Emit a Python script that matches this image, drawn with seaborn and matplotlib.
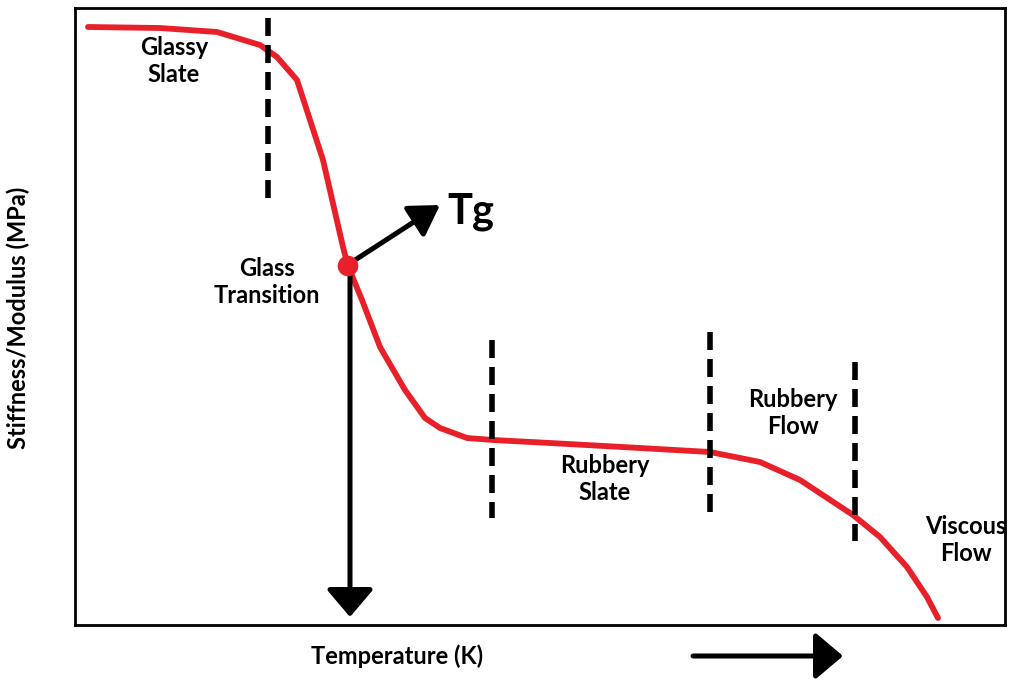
import numpy as np
import pandas as pd
import matplotlib
matplotlib.use('Agg')
import matplotlib.pyplot as plt
import seaborn as sns

# curve (x = temperature, y = stiffness, arbitrary units)
temp = [88, 160, 217, 260, 277, 297, 323, 343, 348, 362, 380, 405, 425, 440,
        467, 493, 550, 640, 710, 760, 800, 853, 880, 907, 927, 938]
stiff = [656, 655, 651, 638, 626, 603, 523, 436, 417, 383, 336, 293, 265, 255,
         245, 243, 240, 235, 231, 221, 203, 168, 146, 116, 86, 65]

# Tg point
tg_x, tg_y = 348, 417

# region boundaries (dashed lines): x, y bottom, y top
bound_x = [268, 492, 710, 855]
bound_lo = [485, 165, 171, 142]
bound_hi = [665, 343, 351, 321]

# region labels
labels = ['Glassy\nSlate', 'Glass\nTransition', 'Rubbery\nSlate', 'Rubbery\nFlow', 'Viscous\nFlow']
label_x = [174, 267, 605, 793, 966]
label_y = [622, 401, 204, 270, 143]

RED = '#e8202a'
FS = 17

sns.set_style('white')
plt.rcParams['font.family'] = ['Lato', 'DejaVu Sans']
plt.rcParams['text.color'] = 'black'

fig = plt.figure(figsize=(10.24, 6.83), dpi=100)
ax = fig.add_axes([75 / 1024, 58 / 683, 930 / 1024, 617 / 683])

df = pd.DataFrame({'T': temp, 'E': stiff})
sns.lineplot(data=df, x='T', y='E', ax=ax, color=RED, linewidth=4.2, sort=False)

# draw dashed boundaries from the top down so they start with a full dash
for x, lo, hi in zip(bound_x, bound_lo, bound_hi):
    ax.plot([x, x], [hi, lo], color='black', linewidth=4.0, linestyle=(0, (3.24, 1.62)))

big_head = '-|>,head_length=0.85,head_width=0.72'
# arrows from Tg
ax.annotate('', xy=(tg_x + 2, 66), xytext=(tg_x + 2, tg_y),
            arrowprops=dict(arrowstyle=big_head, color='black', lw=3.6,
                            shrinkA=0, shrinkB=0, mutation_scale=20))
ax.annotate('', xy=(440, 478), xytext=(tg_x + 4, tg_y + 4),
            arrowprops=dict(arrowstyle='-|>,head_length=0.9,head_width=0.55',
                            color='black', lw=3.6, shrinkA=0, shrinkB=0,
                            mutation_scale=20))
ax.scatter([tg_x], [tg_y], s=220, color=RED, zorder=5, edgecolor='none')
ax.text(471, 471, 'Tg', fontsize=30, fontweight='bold', ha='center', va='center',
        color='black')

for t, x, y in zip(labels, label_x, label_y):
    ax.text(x, y, t, fontsize=FS, fontweight='bold', ha='center', va='center',
            linespacing=1.2, color='black')

ax.set_xlim(75, 1005)
ax.set_ylim(58, 675)
ax.set_xticks([])
ax.set_yticks([])
ax.set_xlabel('')
ax.set_ylabel('')
for s in ax.spines.values():
    s.set_linewidth(2.0)
    s.set_color('black')

fig.text(397 / 1024, 1 - 656 / 683, 'Temperature (K)', fontsize=FS, fontweight='bold',
         ha='center', va='center', color='black')
fig.text(18 / 1024, 1 - 318 / 683, 'Stiffness/Modulus (MPa)', fontsize=FS,
         fontweight='bold', ha='center', va='center', rotation=90, color='black')
fig.patches.append(matplotlib.patches.FancyArrowPatch(
    (693 / 1024, 1 - 656 / 683), (843 / 1024, 1 - 656 / 683), transform=fig.transFigure,
    arrowstyle=big_head, color='black', lw=3.6,
    shrinkA=0, shrinkB=0, mutation_scale=20))

fig.savefig('out.png', dpi=100)
